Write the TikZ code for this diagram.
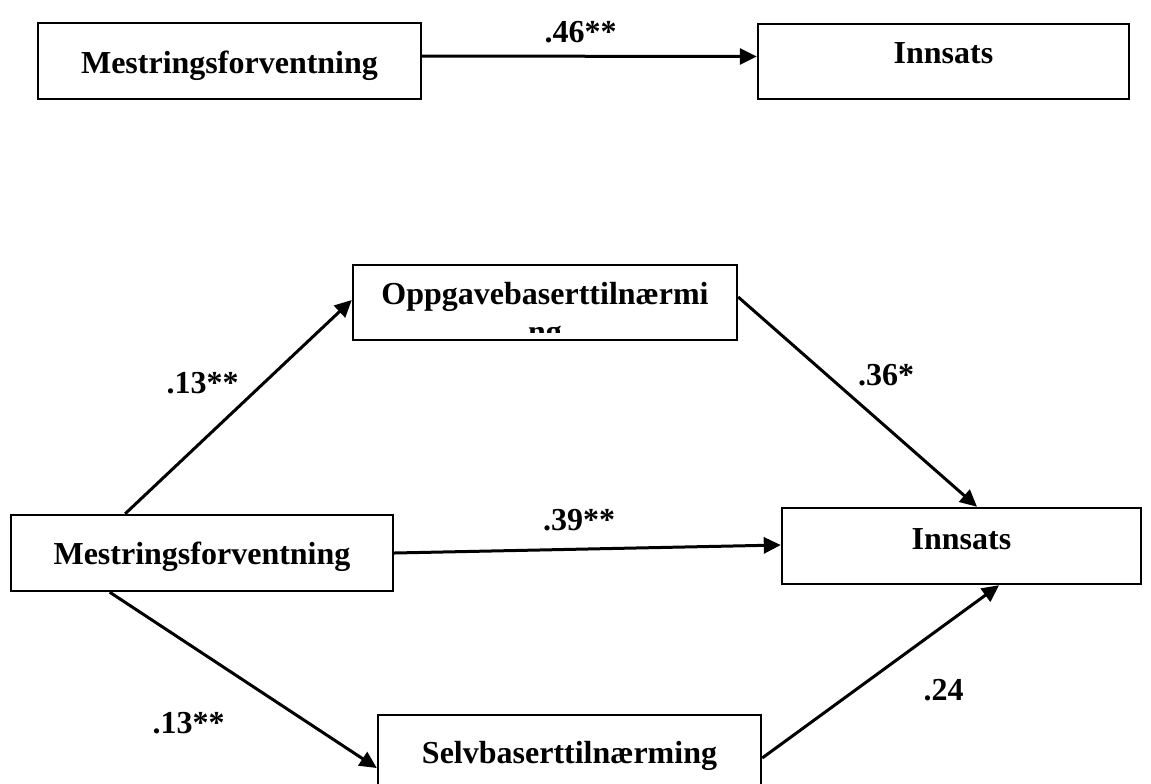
\documentclass[tikz,border=0pt]{standalone}
\usepackage{fontspec}
\setmainfont{Liberation Serif}
\usetikzlibrary{calc,arrows.meta}

\begin{document}
\begin{tikzpicture}[x=0.5pt,y=-0.5pt,
  box/.style={draw,line width=1.2pt,minimum height=38pt,text depth=0pt,
    font=\bfseries\fontsize{16}{19}\selectfont},
  lab/.style={font=\bfseries\fontsize{16}{19}\selectfont,anchor=base,inner sep=0pt},
  arr/.style={-{Triangle[length=8.5pt,width=8pt]},line width=1.5pt}]
\useasboundingbox (0,0) rectangle (1151,783);

% total effect
\node[box,minimum width=191.5pt,text height=12pt] (mt) at (229.5,61) {Mestringsforventning};
\node[box,minimum width=185.5pt,minimum height=37.5pt,text height=1.5pt] (it) at (943.5,61.5) {Innsats};
\draw[arr] ([yshift=2.5pt]mt.east) -- ([yshift=2.5pt]it.west);
\node[lab] (l46) at (580.5,42) {.46**};

% mediation model
\node[box,minimum width=191pt,text height=11pt] (mb) at (202,553) {Mestringsforventning};
\node[box,minimum width=192pt,minimum height=37.5pt,text height=1.5pt] (op) at (545,302.5) {Oppgavebaserttilnærmi};
\begin{scope}
\clip (op.north west) rectangle ([yshift=4.5pt]op.south east);
\node[lab] (opng) at ([yshift=-19pt]op.base) {ng};
\end{scope}
\node[box,minimum width=179.5pt,text height=3pt] (ib) at (961.5,546) {Innsats};
\node[box,minimum width=191.5pt,text height=10pt] (sv) at (569.5,753) {Selvbaserttilnærming};

\draw[arr] ($(mb.north west)!0.3!(mb.north east)$) -- ([yshift=1.25pt]op.west);
\draw[arr] (mb.east) -- ([yshift=0.5pt]ib.west);
\draw[arr] ($(mb.south west)!0.26!(mb.south east)$) -- ([yshift=-7.5pt]sv.west);
\draw[arr] ([yshift=2.75pt]op.east) -- ($(ib.north west)!0.543!(ib.north east)$);
\draw[arr] ([yshift=-2.5pt]sv.east) -- ($(ib.south west)!0.604!(ib.south east)$);

\node[lab] (l13a) at (202.5,393) {.13**};
\node[lab] (l39) at (579,530) {.39**};
\node[lab] (l36) at (886,385) {.36*};
\node[lab] (l13b) at (188.5,733) {.13**};
\node[lab] (l24) at (943.5,700) {.24};
\end{tikzpicture}
\end{document}
